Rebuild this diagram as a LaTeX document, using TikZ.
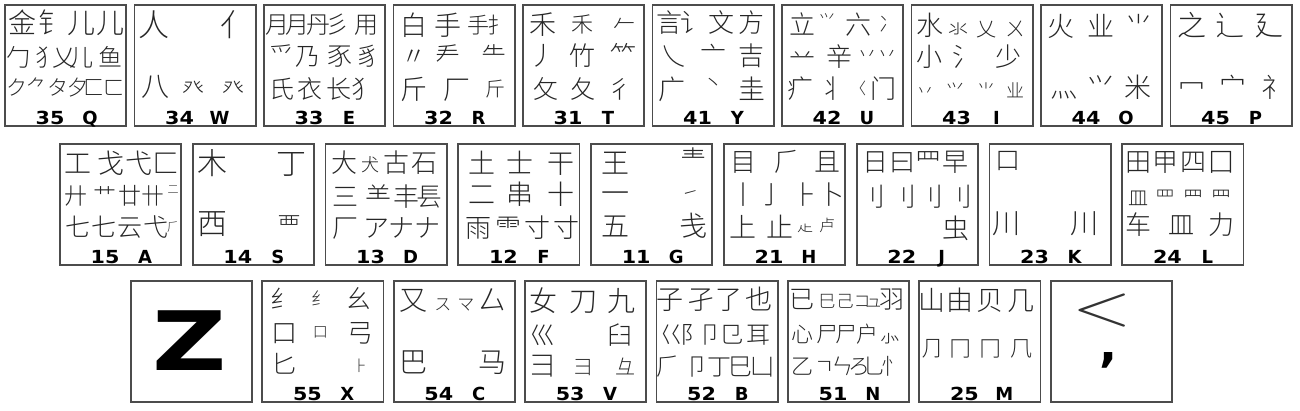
\documentclass[tikz,border=0pt]{standalone}
\usepackage{fontspec}
\newfontfamily\cjk{Noto Sans CJK SC Light}
\newfontfamily\keyfont{DejaVu Sans}

\tikzset{
  keybox/.style={draw=black!70, line width=1.8pt, minimum size=121.2pt, inner sep=0pt},
  rad/.style={anchor=base, inner sep=0pt, text=black!85},
  keynum/.style={anchor=base, inner sep=0pt, font=\keyfont\bfseries\fontsize{18}{18}\selectfont},
  keylet/.style={keynum},
}

% one row of radicals: name, y of row, font size, list of x/glyph
\newcommand\radrow[4]{%
  \foreach \gx/\gg [count=\gi] in {#4}
    \node[rad, font=\cjk\fontsize{#3}{#3}\selectfont] (#1-\gi) at (\gx,{#2+0.38*#3}) {\gg};}

% one key: name, left, top, number, letter, radicals
\newcommand\keycap[6]{%
  \begin{scope}[shift={(#2,#3)}]
    \node[keybox] (#1) at (61.5,61.5) {};
    \node[keynum] (#1-num) at (46,120) {\scalebox{1.15}[1]{#4}};
    \node[keylet] (#1-let) at (86,120) {#5};
    #6
  \end{scope}}

\begin{document}
\begin{tikzpicture}[x=1pt,y=-1pt]
\useasboundingbox (0,0) rectangle (1300,410);

% top row
\keycap{q}{4}{4}{35}{Q}{
  \radrow{q1}{19}{28}{19/金,48/钅,77/儿,106/儿}
  \radrow{q2}{53}{24}{14/勹,43/犭,60/乂,77/儿,106/鱼}
  \radrow{q3}{84}{21}{13/ク,33/⺈,54/タ,74/夕,90/⼕,110/ㄈ}}
\keycap{w}{133.5}{4}{34}{W}{
  \radrow{w1}{21}{31}{20/人,102/亻}
  \radrow{w3}{82}{28}{22/八}
  \radrow{w4}{84}{22}{60/癶,100/癶}}
\keycap{e}{263}{4}{33}{E}{
  \radrow{e1}{20}{24}{14/月,34/月,55/丹,74/彡,103/用}
  \radrow{e2}{52}{25}{19/爫,45/乃,77/豕,105/豸}
  \radrow{e3}{85}{25}{19/氏,47/衣,76/长,101/犭}}
\keycap{r}{392.5}{4}{32}{R}{
  \radrow{r1}{21}{27}{21/白,55/手}
  \radrow{r1s}{21}{22}{86/手,106/扌}
  \radrow{r2}{52}{25}{21/〃,55/龵,101/⺧}
  \radrow{r3}{85}{27}{21/斤,64/厂}
  \radrow{r3s}{85}{20}{103/斤}}
\keycap{t}{522}{4}{31}{T}{
  \radrow{t1}{20}{27}{21/禾}
  \radrow{t1s}{20}{22}{60/禾,102/𠂉}
  \radrow{t2}{52}{26}{20/丿,60/竹,101/⺮}
  \radrow{t3}{85}{25}{24/攵,61/夂,98/彳}}
\keycap{y}{651.5}{4}{41}{Y}{
  \radrow{y1}{19}{26}{18/言,42/讠,70/文,100/方}
  \radrow{y2}{52}{26}{22/乀,62/亠,100/吉}
  \radrow{y3}{85}{27}{20/广,100/圭}
  \radrow{y3s}{79}{20}{62/丶}}
\keycap{u}{781}{4}{42}{U}{
  \radrow{u1}{21}{26}{21/立,77/六}
  \radrow{u1s}{16}{16}{46/⺍}
  \radrow{u1t}{20}{20}{108/冫}
  \radrow{u2}{53}{26}{21/䒑,58/辛}
  \radrow{u2s}{50}{20}{86/丷,106/丷}
  \radrow{u3}{85}{26}{19/疒,51/丬,102/门}
  \radrow{u3s}{84}{16}{77/〈}}
\keycap{i}{910.5}{4}{43}{I}{
  \radrow{i1}{21}{27}{19/水}
  \radrow{i1s}{25}{20}{48/氺,76/乂,105/ㄨ}
  \radrow{i2}{53}{26}{19/小,55/氵,98/少}
  \radrow{i3}{87}{18}{15/丷,45/⺍,76/⺌,105/业}}
\keycap{o}{1040}{4}{44}{O}{
  \radrow{o1}{22}{27}{21/火,61/业,99/⺌}
  \radrow{o3}{83}{27}{24/灬,61/⺍,98/米}}
\keycap{p}{1169.5}{4}{45}{P}{
  \radrow{p1}{21}{29}{22/之,60/辶,99/廴}
  \radrow{p3}{83}{27}{22/冖,63/宀,105/礻}}

% middle row
\keycap{a}{59}{143}{15}{A}{
  \radrow{a1}{20}{27}{19/工,52/戈,80/弋,107/匚}
  \radrow{a2}{53}{23}{17/廾,46/艹,71/廿,94/卄}
  \radrow{a2s}{46}{11}{114/二}
  \radrow{a3}{84}{25}{19/七,45/七,71/云,97/弋}
  \radrow{a3s}{84}{12}{114/⺁}}
\keycap{s}{191.8}{143}{14}{S}{
  \radrow{s1}{20}{30}{21/木,100/丁}
  \radrow{s3}{80}{30}{21/西}
  \radrow{s3s}{82}{24}{98/覀}}
\keycap{d}{324.6}{143}{13}{D}{
  \radrow{d1}{20}{26}{20/大,72/古,100/石}
  \radrow{d1s}{22}{18}{46/犬}
  \radrow{d2}{54}{26}{21/三,54/⺷,82/丰,105/镸}
  \radrow{d3}{85}{26}{21/厂,52/ア,77/ナ,103/ナ}}
\keycap{f}{457.4}{143}{12}{F}{
  \radrow{f1}{20}{27}{25/土,63/士,104/干}
  \radrow{f2}{51}{27}{25/二,63/串,104/十}
  \radrow{f3}{85}{26}{21/雨,51/⻗,80/寸,109/寸}}
\keycap{g}{590.2}{143}{11}{G}{
  \radrow{g1}{20}{28}{25/王}
  \radrow{g1s}{17}{26}{103/龶}
  \radrow{g2}{50}{28}{25/一}
  \radrow{g2s}{50}{18}{100/㇀}
  \radrow{g3}{83}{28}{25/五,103/戋}}
\keycap{h}{723}{143}{21}{H}{
  \radrow{h1}{19}{26}{20/目,64/⺁,104/且}
  \radrow{h2}{52}{26}{20/丨,48/亅,82/⺊,108/卜}
  \radrow{h3}{84}{27}{20/上,57/止}
  \radrow{h3s}{82}{16}{82/龰,104/卢}}
\keycap{j}{855.8}{143}{22}{J}{
  \radrow{j1}{19}{26}{20/日,47/曰,73/⺫,100/早}
  \radrow{j2}{54}{26}{17/刂,48/刂,75/⺉,104/刂}
  \radrow{j3}{85}{27}{100/虫}}
\keycap{k}{988.6}{143}{23}{K}{
  \radrow{k1}{17}{25}{19/口}
  \radrow{k3}{80}{28}{18/川,96/川}}
\keycap{l}{1121.4}{143}{24}{L}{
  \radrow{l1}{19}{26}{17/田,44/甲,72/四,100/囗}
  \radrow{l2}{55}{20}{17/皿,44/罒,72/⺫,100/⺲}
  \radrow{l3}{82}{26}{17/车,60/皿,100/力}}

% bottom row
\begin{scope}[shift={(130,280)}]
  \node[keybox] (z) at (61.5,61.5) {};
  \node[anchor=base, inner sep=0pt, font=\keyfont\bfseries\fontsize{82}{82}\selectfont] (z-big) at (60,90) {\scalebox{1.25}[1]{Z}};
\end{scope}
\keycap{x}{261.4}{280}{55}{X}{
  \radrow{x1}{19}{25}{22/纟,98/幺}
  \radrow{x1s}{19}{18}{59/纟}
  \radrow{x2}{53}{26}{23/口,99/弓}
  \radrow{x2s}{52}{15}{59/口}
  \radrow{x3}{84}{25}{23/匕}
  \radrow{x3s}{86}{15}{99/⺊}}
\keycap{c}{392.8}{280}{54}{C}{
  \radrow{c1}{20}{28}{21/又,100/厶}
  \radrow{c1s}{24}{17}{50/ス,73/マ}
  \radrow{c3}{82}{28}{21/巴,100/马}}
\keycap{v}{524.2}{280}{53}{V}{
  \radrow{v1}{21}{28}{19/女,59/刀,97/九}
  \radrow{v2}{55}{25}{19/巛,96/臼}
  \radrow{v3}{85}{27}{19/彐}
  \radrow{v3s}{87}{20}{59/⺕,101/⺔}}
\keycap{b}{655.6}{280}{52}{B}{
  \radrow{b1}{19}{27}{14/子,45/孑,73/了,103/也}
  \radrow{b2}{54}{24}{16/巜,37/阝,55/卩,76/㔾,103/耳}
  \radrow{b3}{86}{24}{13/⺁,42/卩,64/丁,85/巳,107/凵}}
\keycap{n}{787}{280}{51}{N}{
  \radrow{n1}{19}{25}{15/已,105/羽}
  \radrow{n1s}{21}{17}{40/巳,58/己,75/コ,87/ュ}
  \radrow{n2}{54}{22}{15/心,40/尸,59/尸,80/户,103/⺗}
  \radrow{n3}{86}{22}{15/乙,38/ㄱ,55/ㄣ,72/ろ,87/乚,105/忄}}
\keycap{m}{918.4}{280}{25}{M}{
  \radrow{m1}{20}{27}{14/山,42/由,72/贝,103/几}
  \radrow{m3}{68}{22}{14/⺆,42/冂,72/冂,103/⺇}}
\begin{scope}[shift={(1049.8,280)}]
  \node[keybox] (lt) at (61.5,61.5) {};
  \node[inner sep=0pt, text=black!80, font=\fontsize{60}{60}\selectfont] (lt-sign) at (52,31) {\scalebox{1.3}[1]{<}};
  \node[anchor=base, inner sep=0pt, font=\keyfont\bfseries\fontsize{34}{34}\selectfont] (lt-comma) at (59,81) {\scalebox{1.4}{,}};
\end{scope}
\end{tikzpicture}
\end{document}
